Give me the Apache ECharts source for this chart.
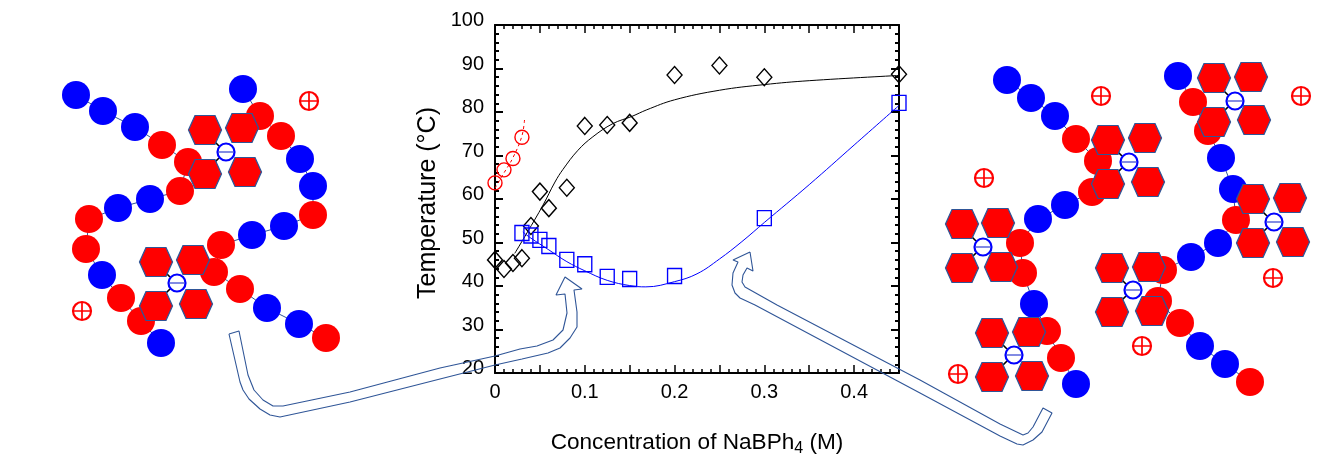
<!DOCTYPE html>
<html><head><meta charset="utf-8">
<script src="https://cdn.jsdelivr.net/npm/echarts@6/dist/echarts.min.js"></script>
<style>html,body{margin:0;padding:0;background:#fff}#c{width:1333px;height:468px}</style>
</head><body><div id="c"></div>
<script>
// ---- measured data (x: concentration M, y: temperature C)
const diamonds = [[0,46],[0.01,43.9],[0.02,45.3],[0.03,46.4],[0.04,53.8],[0.05,61.7],[0.06,57.9],[0.08,62.6],[0.1,76.8],[0.125,77],[0.15,77.5],[0.2,88.5],[0.25,90.7],[0.3,88],[0.45,88.7]];
const squares = [[0.03,52.2],[0.04,51.6],[0.05,50.6],[0.06,49.2],[0.08,46],[0.1,45],[0.125,42.1],[0.15,41.6],[0.2,42.3],[0.3,55.6],[0.45,82.1]];
const circles = [[0,63.7],[0.01,66.7],[0.02,69.3],[0.03,74.2]];
const blackCurve = [[0.022,47.5],[0.0356,52.2],[0.0535,58.6],[0.0668,63.9],[0.0757,66.8],[0.0924,71.2],[0.109,74.3],[0.131,77.3],[0.1526,79],[0.169,80.5],[0.2,82.8],[0.25,85],[0.3,86.3],[0.35,87.2],[0.45,88.4]];
const blueCurve = [[0.031,52.4],[0.04,51],[0.06,48.3],[0.08,45.6],[0.1,43.5],[0.125,41.3],[0.15,40.1],[0.168,39.8],[0.2,41],[0.225,42.8],[0.25,46.2],[0.275,50.2],[0.3,54.6],[0.35,63.3],[0.4,72.4],[0.45,81.5]];
const redCurve = [[0,62.5],[0.01,66],[0.02,69.5],[0.03,74.5],[0.033,78.5]];
const xLabels = ['0','0.1','0.2','0.3','0.4'];

// ---- schematic (page coordinates; third entry 1 = red bead, 0 = blue bead)
const chainA = [[76,95,0],[103,111,0],[135,127,0],[162,145,1],[188,162,1],[180,191,1],[150,199,0],[118,208,0],[89,219,1],[86,249,1],[102,275,0],[121,298,1],[141,321,1],[161,343,0]];
const chainB = [[243,89,0],[260,116,1],[281,136,1],[300,159,0],[313,186,0],[313,215,1],[284,226,0],[252,235,0],[221,245,1],[214,272,1],[240,289,1],[267,308,0],[299,324,0],[326,338,1]];
const chainC = [[1007,80,0],[1031,98,0],[1055,116,0],[1076,139,1],[1098,161,1],[1092,192,1],[1065,205,0],[1038,219,0],[1020,243,1],[1023,273,1],[1034,304,0],[1047,331,1],[1061,358,1],[1076,384,0]];
const chainD = [[1178,76,0],[1193,102,1],[1208,131,1],[1221,158,0],[1233,189,0],[1236,220,1],[1218,243,0],[1191,257,0],[1163,270,1],[1158,301,1],[1180,323,1],[1200,346,0],[1225,364,0],[1250,382,1]];
const hexagons = [[205,130],[242,128],[205,174],[245,172],[156,262],[193,260],[156,306],[196,304],[1108,140],[1145,138],[1108,184],[1148,182],[1214,78],[1251,77],[1214,122],[1254,120],[1253,199],[1290,198],[1253,243],[1293,242],[962,224],[998,223],[962,268],[1001,267],[1112,268],[1149,267],[1112,312],[1152,311],[992,333],[1029,332],[992,377],[1032,376]];
const anions = [[226,152],[177,283],[1129,162],[1235,101],[1274,222],[983,247],[1133,290],[1014,355]];
const cations = [[309,101],[82,311],[1101,96],[1301,96],[984,178],[1273,278],[1142,346],[958,374]];
const arrowLeft = [[229,334],[240,382],[243,390],[249,399],[260,409],[270,415],[280,417],[350,402],[440,379],[495,365],[522,359],[548,353],[560,348],[570,338],[577,327],[577,312],[574,290],[582,289],[565,277],[556,295],[565,294],[567,313],[563,330],[553,340],[537,346],[520,349],[495,356],[440,368],[350,392],[283,406],[273,406],[263,400],[254,390],[248,375],[239,331],[229,334]];
const arrowRight = [[750,252],[753,271],[747,268],[743,275],[742,282],[745,287],[777,305],[920,380],[1000,424],[1023,435],[1028,433],[1033,427],[1043,408],[1052,413],[1042,432],[1033,440],[1023,445],[1017,444],[1000,436],[920,393],[755,305],[740,298],[735,293],[732,285],[733,273],[738,262],[733,260],[750,252]];

const FONT = '"Liberation Sans", Arial, sans-serif';
const chart = echarts.init(document.getElementById('c'));
const INK = '#000';
const OUT = '#2f5597';
const hexPath = 'path://M0 14.5 L6.5 0 L26.5 0 L33 14.5 L26.5 29 L6.5 29 Z';
const crossPath = 'path://M-0.5 -5 H0.5 V5 H-0.5 Z M-5 -0.5 H5 V0.5 H-5 Z';

const anionBonds = anions.flatMap(([x,y]) => [[x-12,y-11],[x-7,y-6],null,[x-12,y+11],[x-7,y+6],null]).map(p => p || ['-','-']);

function xAxisDef(pos, labels) {
  return {type:'value', gridIndex:0, position:pos, min:0, max:0.45, interval:0.05,
    splitLine:{show:false},
    axisLine:{show:true, onZero:false, lineStyle:{color:INK,width:2}},
    axisTick:{show:true, inside:true, length:8, lineStyle:{color:INK,width:1.5}},
    minorTick:{show:true, splitNumber:5, length:4, lineStyle:{color:INK,width:1.5}},
    axisLabel: labels ? {show:true, margin:9, color:INK, fontSize:20, fontFamily:FONT, showMinLabel:true,
      formatter:v => { const s = String(Math.round(v*100)/100); return xLabels.includes(s) ? s : ''; }} : {show:false},
    name: labels ? '{t|Concentration of NaBPh}{s|4}{t| (M)}' : '',
    nameLocation:'middle', nameGap:56,
    nameTextStyle:{rich:{t:{fontSize:22.6,fontFamily:FONT,color:INK},s:{fontSize:16,fontFamily:FONT,color:INK,verticalAlign:'bottom',padding:[12,0,0,0]}}}
  };
}
function yAxisDef(pos, labels) {
  return {type:'value', gridIndex:0, position:pos, min:20, max:100, interval:10,
    splitLine:{show:false},
    axisLine:{show:true, onZero:false, lineStyle:{color:INK,width:2}},
    axisTick:{show:true, inside:true, length:8, lineStyle:{color:INK,width:2}},
    minorTick:{show:true, splitNumber:5, length:4, lineStyle:{color:INK,width:2}},
    axisLabel: labels ? {show:true, margin:11, color:INK, fontSize:20, fontFamily:FONT, verticalAlign:'bottom', lineHeight:9} : {show:false},
    name: labels ? 'Temperature (°C)' : '',
    nameLocation:'middle', nameGap:54, nameRotate:90,
    nameTextStyle:{fontSize:25,fontFamily:FONT,color:INK,padding:[0,8,0,0]}
  };
}
const hiddenX = {type:'value', gridIndex:1, min:0, max:1333, show:false};
const hiddenY = {type:'value', gridIndex:1, min:0, max:468, inverse:true, show:false};
const onPage = {xAxisIndex:2, yAxisIndex:2, clip:false, silent:true, animation:false};
const onPlot = {xAxisIndex:0, yAxisIndex:0, clip:false, silent:true, animation:false};

function plotLine(data,color,type){return {...onPlot,type:'line',data,smooth:0.4,showSymbol:false,symbol:'none',lineStyle:{color,width:1,type:type||'solid'},z:3};}
function plotPts(data,symbol,size,color){return {...onPlot,type:'scatter',data,symbol,symbolSize:size,itemStyle:{opacity:1,color:'rgba(0,0,0,0)',borderColor:color,borderWidth:1.4},z:4};}
function bond(data){return {...onPage,type:'line',data:data.map(p=>[p[0],p[1]]),symbol:'none',lineStyle:{color:OUT,width:1},z:5};}
function beads(data){return {...onPage,type:'scatter',data,symbol:'circle',symbolSize:28,itemStyle:{opacity:1,color:p=>p.value[2]?'#ff0000':'#0000ff'},z:6};}
function outline(data){return {...onPage,type:'line',data,symbol:'none',lineStyle:{color:OUT,width:1.1},z:10};}

chart.setOption({
  animation:false,
  backgroundColor:'#fff',
  grid:[{left:495,top:25,width:404,height:348,containLabel:false},{left:0,top:0,width:1333,height:468}],
  xAxis:[xAxisDef('bottom',true),xAxisDef('top',false),hiddenX],
  yAxis:[yAxisDef('left',true),yAxisDef('right',false),hiddenY],
  series:[
    plotLine(blackCurve,'#000'),
    plotLine(blueCurve,'#0000ff'),
    plotLine(redCurve,'#ff0000',[3,3]),
    plotPts(diamonds,'diamond',[15,17],'#000'),
    plotPts(squares,'rect',[14,15],'#0000ff'),
    plotPts(circles,'circle',14,'#ff0000'),
    bond(chainA),bond(chainB),bond(chainC),bond(chainD),
    beads(chainA),beads(chainB),beads(chainC),beads(chainD),
    {...onPage,type:'line',data:anionBonds,connectNulls:false,symbol:'none',lineStyle:{color:'#000',width:1.6},z:7},
    {...onPage,type:'scatter',data:hexagons,symbol:hexPath,symbolSize:[33,29],symbolKeepAspect:false,itemStyle:{opacity:1,color:'#ff0000',borderColor:OUT,borderWidth:1.2},z:8},
    {...onPage,type:'scatter',data:anions,symbol:'circle',symbolSize:17,itemStyle:{opacity:1,color:'#fff',borderColor:'#0000ff',borderWidth:2.2},z:9},
    {...onPage,type:'scatter',data:anions,symbol:'rect',symbolSize:[15,1.2],itemStyle:{opacity:1,color:'#2f3fd0'},z:9},
    {...onPage,type:'scatter',data:cations,symbol:'circle',symbolSize:18,itemStyle:{opacity:1,color:'#fff',borderColor:'#ff0000',borderWidth:2.2},z:9},
    {...onPage,type:'scatter',data:cations,symbol:crossPath,symbolSize:17,itemStyle:{opacity:1,color:'#ff0000'},z:9},
    outline(arrowLeft),
    outline(arrowRight)
  ]
});
</script></body></html>
